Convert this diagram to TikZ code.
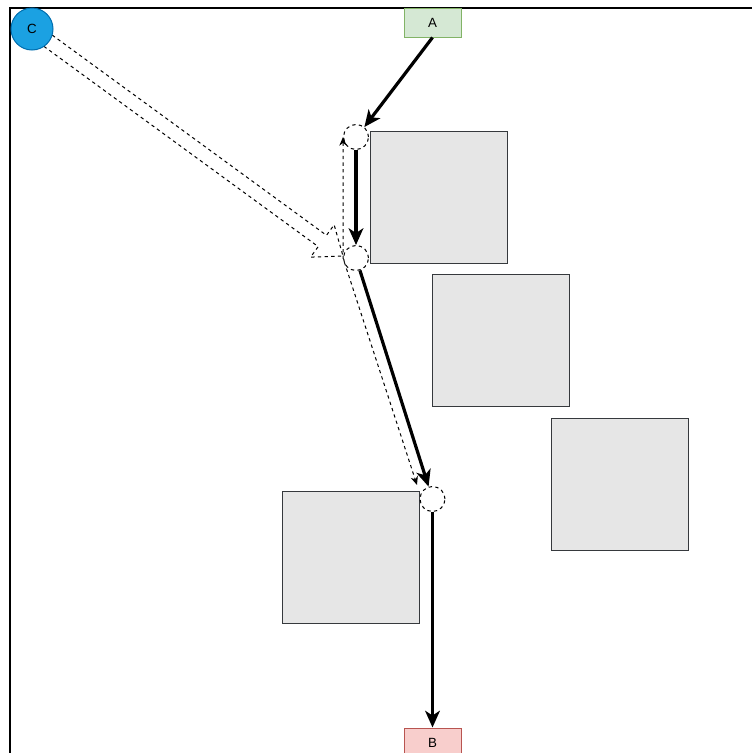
\documentclass[tikz,border=0pt]{standalone}
\usepackage{fontspec}
\setmainfont{Liberation Sans}
\usetikzlibrary{arrows.meta}
\definecolor{blockfill}{HTML}{E6E6E6}
\definecolor{blockline}{HTML}{36393D}
\definecolor{greenfill}{HTML}{D5E8D4}
\definecolor{greenline}{HTML}{82B366}
\definecolor{redfill}{HTML}{F8CECC}
\definecolor{redline}{HTML}{B85450}
\definecolor{bluefill}{HTML}{1BA1E2}
\definecolor{blueline}{HTML}{006EAF}
\begin{document}
\begin{tikzpicture}[x=0.75pt,y=-0.75pt,
  font=\fontsize{10}{11}\selectfont,
  frameline/.style={line width=1pt, draw=black},
  block/.style={draw=blockline, fill=blockfill, line width=1pt,
    minimum width=102.75pt, minimum height=99pt, inner sep=0pt, anchor=north west},
  label box/.style={rectangle, line width=0.75pt, minimum width=42.75pt,
    minimum height=21.75pt, inner sep=0pt},
  startbox/.style={label box, draw=greenline, fill=greenfill},
  endbox/.style={label box, draw=redline, fill=redfill},
  source/.style={circle, draw=blueline, fill=bluefill, line width=0.75pt,
    minimum size=31.5pt, inner sep=0pt},
  waypoint/.style={circle, draw=black, fill=white, line width=0.75pt,
    dash pattern=on 2.5pt off 2.5pt, minimum size=18.75pt, inner sep=0pt},
  route/.style={line width=2.4pt, -{Stealth[length=12.5pt,width=11pt,inset=3.5pt]}},
  detour/.style={line width=0.75pt, dash pattern=on 2.5pt off 2.5pt,
    {Stealth[length=6.5pt,width=5.5pt]}-{Stealth[length=6.5pt,width=5.5pt]}},
  hollow/.style={line width=0.75pt, dash pattern=on 2.5pt off 2.5pt, fill=white, line join=miter}
]
\useasboundingbox (0,0) rectangle (751,753);

% page frame (open to the right and bottom)
\draw[frameline] (10,760) -- (10,8) -- (760,8);

% grey blocks
\node[block] (s1) at (370,131) {};
\node[block] (s2) at (432,274) {};
\node[block] (s3) at (551,418) {};
\node[block] (s4) at (282,491) {};

% wide hollow arrow from the source circle
\coordinate (c0) at (32,29);
\begin{scope}[shift={(c0)}, rotate=-36.13]
  \draw[hollow] (20,-7) -- (359.5,-7) -- (359.5,-20) -- (385,0)
    -- (359.5,20) -- (359.5,7) -- (20,7);
\end{scope}

% terminals
\node[startbox] (A) at (432.5,22.5) {A};
\node[endbox] (B) at (432.5,742.5) {B};
\node[source] (C) at (c0) {C};

% waypoints
\node[waypoint] (p1) at (356,137) {};
\node[waypoint] (p2) at (356,258) {};
\node[waypoint] (p3) at (432.5,499) {};
\coordinate (q3) at (417,485);

% dashed detour with tips at both ends
\draw[detour] (p1.west) -- (p2.west) -- (q3);

% main route
\draw[route] (A.south) -- (p1.50);
\draw[route] (p1) -- (p2);
\draw[route] (p2) -- (p3);
\draw[route] (p3) -- (B);
\end{tikzpicture}
\end{document}
